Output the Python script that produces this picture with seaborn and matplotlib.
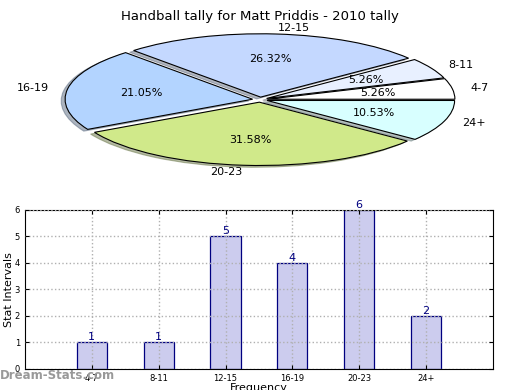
import matplotlib
matplotlib.use("Agg")
import matplotlib.pyplot as plt
import seaborn as sns
import pandas as pd

# data
intervals = ["4-7", "8-11", "12-15", "16-19", "20-23", "24+"]
counts = [1, 1, 5, 4, 6, 2]
pie_colors = ["#ffffff", "#e8f0ff", "#c4d8ff", "#b3d4ff", "#d0e98a", "#d8ffff"]

sns.set_style("white")
plt.rcParams['font.family'] = ['DejaVu Sans']
plt.rcParams['text.color'] = 'black'
plt.rcParams['axes.labelcolor'] = 'black'
plt.rcParams['xtick.color'] = 'black'
plt.rcParams['ytick.color'] = 'black'

fig = plt.figure(figsize=(5.2, 3.9), dpi=100)

# pie on top
ax_pie = fig.add_axes([0.125, 0.574, 0.75, 0.341])
ax_pie.pie(counts, labels=intervals, colors=pie_colors, autopct='%.2f%%',
           startangle=0, explode=[0.04] * len(counts),
           shadow={'ox': -0.015, 'oy': -0.02, 'shade': 0.5},
           labeldistance=1.1, pctdistance=0.6,
           wedgeprops={'edgecolor': 'black', 'linewidth': 0.8},
           textprops={'fontsize': 8})
ax_pie.set_aspect('auto')
ax_pie.set_xlim(-1.04, 1.04)
ax_pie.set_ylim(-1.05, 1.05)
fig.text(0.5, 0.975, "Handball tally for Matt Priddis - 2010 tally",
         ha='center', va='top', fontsize=9.5)

# bar chart below
ax = fig.add_axes([0.048, 0.054, 0.9, 0.4077])
df = pd.DataFrame({'interval': intervals, 'count': counts})
sns.barplot(data=df, x='interval', y='count', ax=ax, color='#ccccee',
            edgecolor='#000080', linewidth=0.9, width=0.45, saturation=1)
for i, c in enumerate(counts):
    ax.text(i, c, str(c), ha='center', va='bottom', color='#000080', fontsize=8)
ax.set_xlim(-1, 6)
ax.set_ylim(0, 6)
ax.set_yticks(range(0, 7))
ax.grid(True, linestyle=':', color='#b0b0b0', linewidth=1)
ax.set_axisbelow(False)
for s in ax.spines.values():
    s.set_color('black')
    s.set_linewidth(0.8)
ax.tick_params(labelsize=6, direction='in', length=3, right=True, top=True, bottom=True, left=True)
ax.set_xlabel("Frequency", fontsize=8, labelpad=0)
ax.set_ylabel("Stat Intervals", fontsize=8)
ax.yaxis.set_label_coords(-0.024, 0.5)

fig.text(0.0, 0.02, "Dream-Stats.com", color='#999999', fontsize=8.5,
         fontweight='bold', ha='left', va='bottom')

fig.savefig("out.png", dpi=100)
